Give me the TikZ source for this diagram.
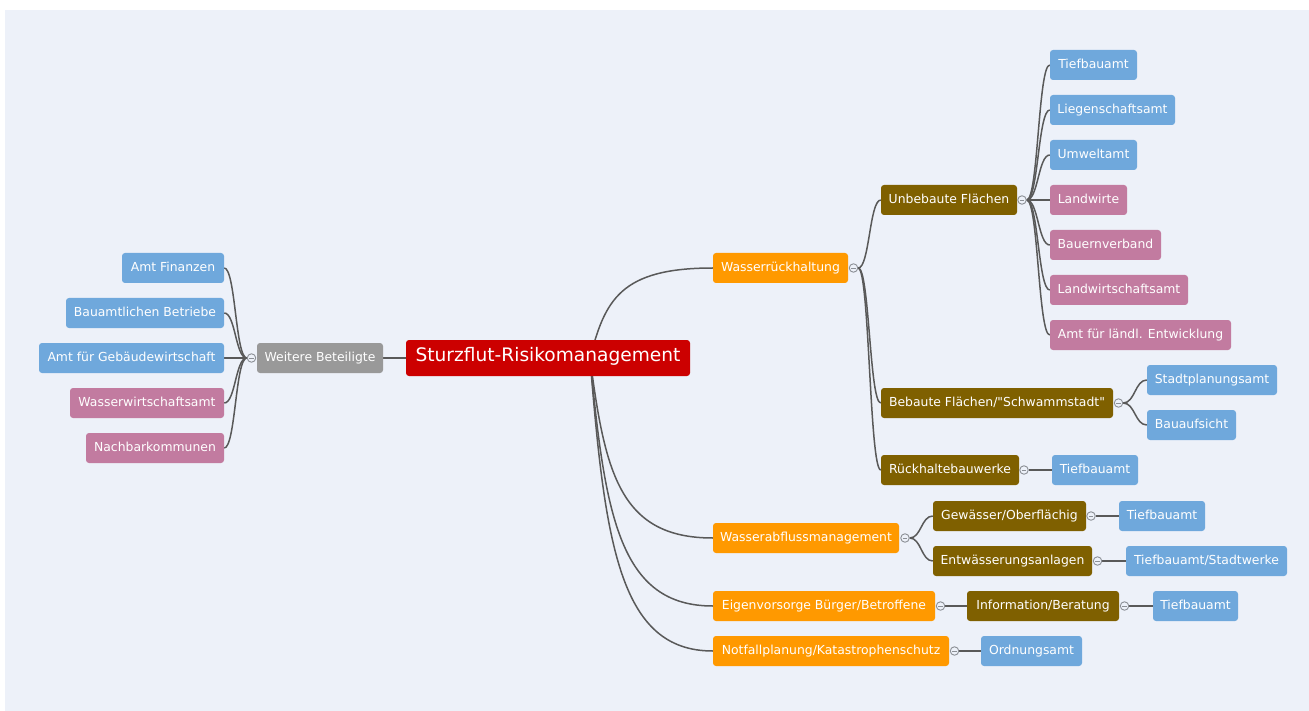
\documentclass[tikz,border=0pt]{standalone}
\usepackage{fontspec}
\setmainfont{DejaVu Sans}
\usetikzlibrary{calc}
\definecolor{bg}{HTML}{EDF1F9}
\definecolor{cblue}{HTML}{6FA8DC}
\definecolor{cpink}{HTML}{C27BA0}
\definecolor{corange}{HTML}{FF9900}
\definecolor{cbrown}{HTML}{7F6000}
\definecolor{cgray}{HTML}{999999}
\definecolor{cred}{HTML}{CC0000}
\definecolor{cline}{HTML}{595959}
\definecolor{ccirc}{HTML}{8C9096}
\pgfdeclarelayer{back}
\pgfdeclarelayer{lines}
\pgfsetlayers{back,lines,main}
\tikzset{
  box/.style={rounded corners=3pt, inner xsep=0pt, inner ysep=0pt, minimum height=30pt,
    text=white, font=\fontsize{12.4}{14}\selectfont, text height=0.73em, text depth=0pt},
  leafb/.style={box, fill=cblue},
  leafp/.style={box, fill=cpink},
  lvlone/.style={box, fill=corange},
  lvltwo/.style={box, fill=cbrown},
  greybox/.style={box, fill=cgray},
  rootbox/.style={box, fill=cred, minimum height=36pt, font=\fontsize{18.6}{22}\selectfont},
  coll/.style={circle, draw=ccirc, line width=0.9pt, fill=bg, minimum size=8.5pt, inner sep=0pt,
    path picture={\draw[ccirc, line width=0.9pt] ([xshift=-2.2pt]path picture bounding box.center) -- ([xshift=2.2pt]path picture bounding box.center);}},
  link/.style={draw=cline, line width=1.5pt},
  scurve/.style={to path={let \p1=(\tikztostart), \p2=(\tikztotarget) in
    .. controls ({(\x1+\x2)/2}, \y1) and ({(\x1+\x2)/2}, \y2) .. (\tikztotarget)}},
  rcurve/.style={to path={let \p1=(\tikztostart), \p2=(\tikztotarget) in
    .. controls (\x1+15pt, {\y1+0.64*(\y2-\y1)}) and (\x1+30pt, \y2) .. (\tikztotarget)}},
}
\begin{document}
\begin{tikzpicture}[x=1pt,y=-1pt]
\useasboundingbox (0,0) rectangle (1309,711);
\begin{pgfonlayer}{back}
\fill[bg] (5,10) rectangle (1309,711);
\end{pgfonlayer}

% root and left side
\node[rootbox, minimum width=284pt] (root) at (548,358) {Sturzflut-Risikomanagement};
\coordinate (rs) at (590,358);
\node[greybox, minimum width=126pt] (weitere) at (320,358) {Weitere Beteiligte};
\node[coll] (cweitere) at (251.5,358) {};
\node[leafb, minimum width=102pt] (amtfin) at (173,268) {Amt Finanzen};
\node[leafb, minimum width=158pt] (bauamt) at (145,313) {Bauamtlichen Betriebe};
\node[leafb, minimum width=185pt] (gebaeude) at (131.5,358) {Amt für Gebäudewirtschaft};
\node[leafp, minimum width=154pt] (wasserwirt) at (147,403) {Wasserwirtschaftsamt};
\node[leafp, minimum width=138pt] (nachbar) at (155,448) {Nachbarkommunen};

% level 1
\node[lvlone, minimum width=135pt] (wrh) at (780.5,268) {Wasserrückhaltung};
\node[coll] (cwrh) at (853.5,268) {};
\node[lvlone, minimum width=186pt] (wab) at (806,538) {Wasserabflussmanagement};
\node[coll] (cwab) at (905,538) {};
\node[lvlone, minimum width=222pt] (eigen) at (824,606) {Eigenvorsorge Bürger/Betroffene};
\node[coll] (ceigen) at (940.5,606) {};
\node[lvlone, minimum width=236pt] (notfall) at (831,651) {Notfallplanung/Katastrophenschutz};
\node[coll] (cnot) at (954.5,651) {};

% level 2
\node[lvltwo, minimum width=136pt] (unbebaut) at (949,200) {Unbebaute Flächen};
\node[coll] (cunb) at (1022,200) {};
\node[lvltwo, minimum width=232pt] (bebaut) at (997,403) {Bebaute Flächen/\textquotedbl Schwammstadt\textquotedbl};
\node[coll] (cbeb) at (1118.5,403) {};
\node[lvltwo, minimum width=138pt] (rueck) at (950,470) {Rückhaltebauwerke};
\node[coll] (crueck) at (1024,470) {};
\node[lvltwo, minimum width=153pt] (gewaesser) at (1009.5,516) {Gewässer/Oberflächig};
\node[coll] (cgew) at (1091,516) {};
\node[lvltwo, minimum width=159pt] (entw) at (1012.5,561) {Entwässerungsanlagen};
\node[coll] (centw) at (1097.5,561) {};
\node[lvltwo, minimum width=152pt] (info) at (1043,606) {Information/Beratung};
\node[coll] (cinfo) at (1124.5,606) {};

% level 3
\node[leafb, minimum width=87pt] (u1) at (1093.5,65) {Tiefbauamt};
\node[leafb, minimum width=125pt] (u2) at (1112.5,110) {Liegenschaftsamt};
\node[leafb, minimum width=87pt] (u3) at (1093.5,155) {Umweltamt};
\node[leafp, minimum width=77pt] (u4) at (1088.5,200) {Landwirte};
\node[leafp, minimum width=111pt] (u5) at (1105.5,245) {Bauernverband};
\node[leafp, minimum width=138pt] (u6) at (1119,290) {Landwirtschaftsamt};
\node[leafp, minimum width=181pt] (u7) at (1140.5,335) {Amt für ländl. Entwicklung};
\node[leafb, minimum width=130pt] (stadtpl) at (1212,380) {Stadtplanungsamt};
\node[leafb, minimum width=89pt] (bauaufs) at (1191.5,425) {Bauaufsicht};
\node[leafb, minimum width=86pt] (tiefr) at (1095,470) {Tiefbauamt};
\node[leafb, minimum width=86pt] (tiefg) at (1162,516) {Tiefbauamt};
\node[leafb, minimum width=161pt] (tiefst) at (1206.5,561) {Tiefbauamt/Stadtwerke};
\node[leafb, minimum width=85pt] (tiefi) at (1195.5,606) {Tiefbauamt};
\node[leafb, minimum width=101pt] (ordnung) at (1031.5,651) {Ordnungsamt};

\begin{pgfonlayer}{lines}
\draw[link] (weitere.east) -- (root.west);
\foreach \c in {amtfin,bauamt,gebaeude,wasserwirt,nachbar}
  \draw[link] (cweitere.west) to[scurve] (\c.east);
\foreach \c in {wrh,wab,eigen,notfall}
  \draw[link] (rs) to[rcurve] (\c.west);
\foreach \c in {unbebaut,bebaut,rueck}
  \draw[link] (cwrh.east) to[scurve] (\c.west);
\foreach \c in {u1,u2,u3,u4,u5,u6,u7}
  \draw[link] (cunb.east) to[scurve] (\c.west);
\foreach \c in {stadtpl,bauaufs}
  \draw[link] (cbeb.east) to[scurve] (\c.west);
\foreach \c in {gewaesser,entw}
  \draw[link] (cwab.east) to[scurve] (\c.west);
\draw[link] (crueck.east) -- (tiefr.west);
\draw[link] (cgew.east) -- (tiefg.west);
\draw[link] (centw.east) -- (tiefst.west);
\draw[link] (ceigen.east) -- (info.west);
\draw[link] (cinfo.east) -- (tiefi.west);
\draw[link] (cnot.east) -- (ordnung.west);
\end{pgfonlayer}
\end{tikzpicture}
\end{document}
